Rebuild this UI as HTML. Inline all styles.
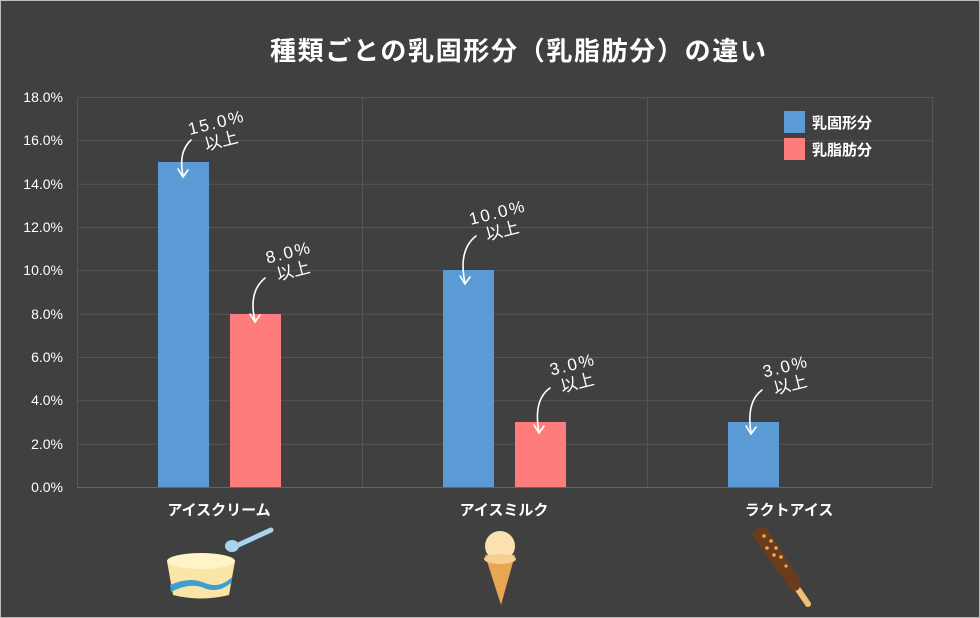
<!DOCTYPE html>
<html><head><meta charset="utf-8"><style>
html,body{margin:0;padding:0;background:#404040}
svg{display:block}
text{font-family:"Liberation Sans","Noto Sans CJK JP",sans-serif;fill:#fff}
</style></head><body>
<svg width="980" height="618" viewBox="0 0 980 618">
<rect x="0.5" y="0.5" width="979" height="617" fill="#404040" stroke="#bdbdbd"/>
<text x="518" y="60" font-size="26" font-weight="bold" text-anchor="middle" font-family="Noto Sans CJK JP,sans-serif" textLength="496">種類ごとの乳固形分（乳脂肪分）の違い</text>
<g stroke="#555" stroke-width="1">
<line x1="77" y1="97.5" x2="932" y2="97.5"/>
<line x1="77" y1="140.8" x2="932" y2="140.8"/>
<line x1="77" y1="184.2" x2="932" y2="184.2"/>
<line x1="77" y1="227.5" x2="932" y2="227.5"/>
<line x1="77" y1="270.8" x2="932" y2="270.8"/>
<line x1="77" y1="314.2" x2="932" y2="314.2"/>
<line x1="77" y1="357.5" x2="932" y2="357.5"/>
<line x1="77" y1="400.8" x2="932" y2="400.8"/>
<line x1="77" y1="444.2" x2="932" y2="444.2"/>
<line x1="77.5" y1="97" x2="77.5" y2="487"/>
<line x1="362.5" y1="97" x2="362.5" y2="487"/>
<line x1="647.5" y1="97" x2="647.5" y2="487"/>
<line x1="932.5" y1="97" x2="932.5" y2="487"/>
</g>
<line x1="77" y1="487.5" x2="932" y2="487.5" stroke="#666"/>
<g font-size="14" text-anchor="end">
<text x="63" y="102">18.0%</text><text x="63" y="145">16.0%</text><text x="63" y="189">14.0%</text>
<text x="63" y="232">12.0%</text><text x="63" y="275">10.0%</text><text x="63" y="319">8.0%</text>
<text x="63" y="362">6.0%</text><text x="63" y="405">4.0%</text><text x="63" y="449">2.0%</text>
<text x="63" y="492">0.0%</text>
</g>
<rect x="158" y="162" width="51" height="325" fill="#5b9bd5"/>
<rect x="230" y="314" width="51" height="173" fill="#ff7c7c"/>
<rect x="443" y="270" width="51" height="217" fill="#5b9bd5"/>
<rect x="515" y="422" width="51" height="65" fill="#ff7c7c"/>
<rect x="728" y="422" width="51" height="65" fill="#5b9bd5"/>
<g font-size="15" font-weight="bold" text-anchor="middle">
<text x="219" y="515">アイスクリーム</text>
<text x="504" y="515">アイスミルク</text>
<text x="789" y="515">ラクトアイス</text>
</g>
<rect x="784" y="111" width="21" height="22" fill="#5b9bd5"/>
<rect x="784" y="138" width="21" height="22" fill="#ff7c7c"/>
<g font-size="15" font-weight="bold"><text x="812" y="128">乳固形分</text><text x="812" y="155">乳脂肪分</text></g>
<g font-size="17" fill="#fff">
<g transform="translate(218,128) rotate(-14)"><text x="0" y="0" text-anchor="middle" letter-spacing="2">15.0%</text><text x="0" y="19" text-anchor="middle">以上</text></g>
<g transform="translate(290,258) rotate(-14)"><text x="0" y="0" text-anchor="middle" letter-spacing="2">8.0%</text><text x="0" y="19" text-anchor="middle">以上</text></g>
<g transform="translate(499,218) rotate(-14)"><text x="0" y="0" text-anchor="middle" letter-spacing="2">10.0%</text><text x="0" y="19" text-anchor="middle">以上</text></g>
<g transform="translate(574,370) rotate(-14)"><text x="0" y="0" text-anchor="middle" letter-spacing="2">3.0%</text><text x="0" y="19" text-anchor="middle">以上</text></g>
<g transform="translate(787,372) rotate(-14)"><text x="0" y="0" text-anchor="middle" letter-spacing="2">3.0%</text><text x="0" y="19" text-anchor="middle">以上</text></g>
</g>
<g stroke="#fff" stroke-width="1.6" fill="none" stroke-linecap="round">
<path d="M191 140 Q178 152 183 176"/><path d="M178 169 L183 177 L188 170"/>
<path d="M265 278 Q248 292 255 321"/><path d="M250 314 L255 322 L260 315"/>
<path d="M476 236 Q458 250 465 283"/><path d="M460 276 L465 284 L470 277"/>
<path d="M550 388 Q533 400 539 432"/><path d="M534 425 L539 433 L544 426"/>
<path d="M762 390 Q746 402 751 433"/><path d="M746 426 L751 434 L756 427"/>
</g>
<g>
<line x1="236" y1="546" x2="271" y2="530" stroke="#a9d4f0" stroke-width="5" stroke-linecap="round"/>
<ellipse cx="232" cy="546" rx="7" ry="6" fill="#a9d4f0"/>
<path d="M167 561 L235 561 L229 595 Q201 602 173 595 Z" fill="#fbe5a6"/>
<ellipse cx="201" cy="561" rx="34" ry="8" fill="#fff3c8"/>
<path d="M170 585 Q190 576 205 583 Q220 589 232 577 L231 583 Q218 594 204 588 Q190 582 171 592 Z" fill="#3b9fd0"/>
</g>
<g>
<path d="M485 555 L515 555 L501 605 Z" fill="#e8a552"/>
<circle cx="500" cy="546" r="15" fill="#fbe1b0"/>
<ellipse cx="500" cy="559" rx="16" ry="5" fill="#f5cf90"/>
</g>
<g>
<line x1="795" y1="585" x2="808" y2="604" stroke="#f2bd74" stroke-width="6" stroke-linecap="round"/>
<path d="M752 535 Q758 523 768 530 L800 580 Q802 592 792 591 Z" fill="#6a3c1b"/>
<g fill="#f4a84a"><circle cx="764" cy="536" r="1.8"/><circle cx="771" cy="541" r="1.8"/><circle cx="767" cy="548" r="1.8"/><circle cx="776" cy="548" r="1.8"/><circle cx="774" cy="555" r="1.8"/><circle cx="781" cy="557" r="1.8"/><circle cx="786" cy="566" r="1.6"/></g>
</g>
</svg>
</body></html>
